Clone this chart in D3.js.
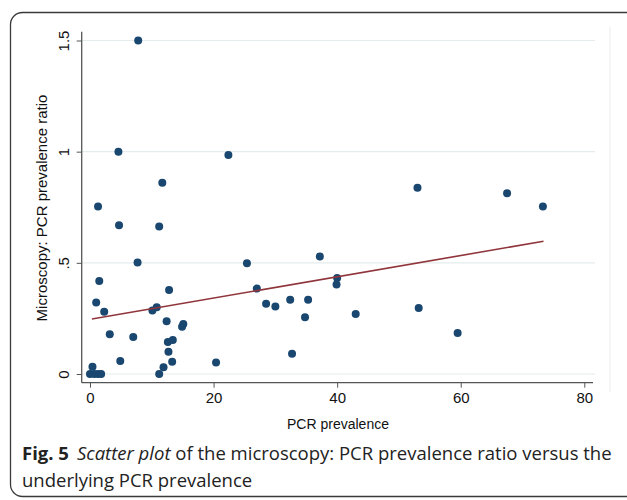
<!DOCTYPE html>
<html>
<head>
<meta charset="utf-8">
<script src="https://cdn.jsdelivr.net/npm/d3@7"></script>
<style>
  body { margin: 0; background: #fff; }
  svg { display: block; }
</style>
</head>
<body>
<div id="chart"></div>
<script>
// PCR prevalence (x) and microscopy:PCR prevalence ratio (y)
const pcrPrev = [7.8, 4.6, 22.4, 11.7, 53.0, 67.5, 73.3, 1.3, 4.7, 11.2, 7.7, 25.4, 37.2,
  1.5, 12.8, 27.0, 40.0, 39.9, 1.0, 2.3, 10.1, 10.8, 28.5, 30.0, 32.4, 35.3, 34.8, 43.0,
  53.2, 12.4, 15.1, 14.9, 3.2, 7.0, 12.6, 13.4, 12.7, 59.5, 32.7, 4.9, 13.3, 20.4, 11.9,
  0.4, 0.0, 0.7, 1.3, 1.8, 11.2];
const ratio = [1.5, 1.0, 0.985, 0.86, 0.838, 0.813, 0.753, 0.753, 0.669, 0.663, 0.501, 0.498, 0.528,
  0.418, 0.378, 0.384, 0.432, 0.402, 0.322, 0.28, 0.286, 0.3, 0.316, 0.304, 0.334, 0.334, 0.255, 0.27,
  0.297, 0.237, 0.225, 0.213, 0.179, 0.166, 0.144, 0.153, 0.1, 0.184, 0.091, 0.058, 0.055, 0.052, 0.03,
  0.033, 0.0, 0.0, 0.0, 0.0, 0.0];
// fitted line end points
const fitX = [0.3, 73.4];
const fitY = [0.247, 0.597];
const xTicks = [0, 20, 40, 60, 80];
const yTicks = [0, 0.5, 1, 1.5];
const yTickLabels = ['0', '.5', '1', '1.5'];

const width = 627, height = 500;
const svg = d3.select('#chart').append('svg')
  .attr('width', width)
  .attr('height', height);

// outer figure frame
svg.append('rect')
  .attr('x', 10.5).attr('y', 12.5)
  .attr('width', 640).attr('height', 484)
  .attr('rx', 12)
  .attr('fill', 'none')
  .attr('stroke', '#3a3a3a')
  .attr('stroke-width', 1.3);

// faint edge of the graph image
svg.append('line')
  .attr('x1', 610).attr('x2', 610)
  .attr('y1', 27).attr('y2', 392)
  .attr('stroke', '#ececec');

const x = d3.scaleLinear().domain([0, 80]).range([90, 584.3]);
const y = d3.scaleLinear().domain([0, 1.5]).range([374, 40.5]);

const axisFont = 'Liberation Sans, Arial, sans-serif';
const left = 81.7, bottom = 382.7;

// gridlines
svg.append('g').selectAll('line')
  .data(yTicks)
  .join('line')
  .attr('x1', left).attr('x2', 595)
  .attr('y1', d => y(d)).attr('y2', d => y(d))
  .attr('stroke', '#e4eced')
  .attr('stroke-width', 1.2);

// x axis
const xAxis = svg.append('g')
  .attr('transform', `translate(0, ${bottom})`)
  .call(d3.axisBottom(x).tickValues(xTicks).tickSize(5).tickSizeOuter(0).tickFormat(d3.format('d')));
xAxis.select('.domain').remove();
xAxis.append('line')
  .attr('x1', left).attr('x2', 593)
  .attr('stroke', '#555').attr('stroke-width', 1.3);
xAxis.selectAll('.tick line').attr('stroke', '#555');
xAxis.selectAll('.tick text')
  .attr('font-family', axisFont).attr('font-size', 15).attr('fill', '#111')
  .attr('dy', '0.85em');

// y axis
const yAxis = svg.append('g')
  .attr('transform', `translate(${left}, 0)`)
  .call(d3.axisLeft(y).tickValues(yTicks).tickSize(5).tickSizeOuter(0)
    .tickFormat((d, i) => yTickLabels[i]));
yAxis.select('.domain').remove();
yAxis.append('line')
  .attr('y1', 31.7).attr('y2', bottom)
  .attr('stroke', '#555').attr('stroke-width', 1.3);
yAxis.selectAll('.tick line').attr('stroke', '#555');
yAxis.selectAll('.tick text')
  .attr('font-family', axisFont).attr('font-size', 15).attr('fill', '#111')
  .attr('x', 0).attr('dy', 0)
  .attr('text-anchor', 'middle')
  .attr('transform', 'translate(-12.5, 0) rotate(-90)');

// axis titles
svg.append('text')
  .attr('x', 338).attr('y', 429)
  .attr('text-anchor', 'middle')
  .attr('font-family', axisFont).attr('font-size', 14).attr('fill', '#111')
  .text('PCR prevalence');

svg.append('text')
  .attr('transform', 'translate(47, 208) rotate(-90)')
  .attr('text-anchor', 'middle')
  .attr('font-family', axisFont).attr('font-size', 15).attr('fill', '#111')
  .text('Microscopy: PCR prevalence ratio');

// points
svg.append('g').selectAll('circle')
  .data(pcrPrev.map((d, i) => [d, ratio[i]]))
  .join('circle')
  .attr('cx', d => x(d[0]))
  .attr('cy', d => y(d[1]))
  .attr('r', 4)
  .attr('fill', '#1a476f');

// fitted line
svg.append('path')
  .datum(fitX.map((d, i) => [d, fitY[i]]))
  .attr('d', d3.line().x(d => x(d[0])).y(d => y(d[1])))
  .attr('fill', 'none')
  .attr('stroke', '#90353b')
  .attr('stroke-width', 1.6);

// caption
const capFont = 'Open Sans, Noto Sans, sans-serif';
const cap = svg.append('text')
  .attr('x', 22).attr('y', 460)
  .attr('font-family', capFont).attr('font-size', 18.5).attr('fill', '#222');
cap.append('tspan').attr('font-weight', 'bold').text('Fig. 5');
cap.append('tspan').attr('dx', 8).attr('font-style', 'italic').text('Scatter plot');
cap.append('tspan').text(' of the microscopy: PCR prevalence ratio versus the');
svg.append('text')
  .attr('x', 22).attr('y', 487)
  .attr('font-family', capFont).attr('font-size', 18.5).attr('fill', '#222')
  .text('underlying PCR prevalence');
</script>
</body>
</html>
